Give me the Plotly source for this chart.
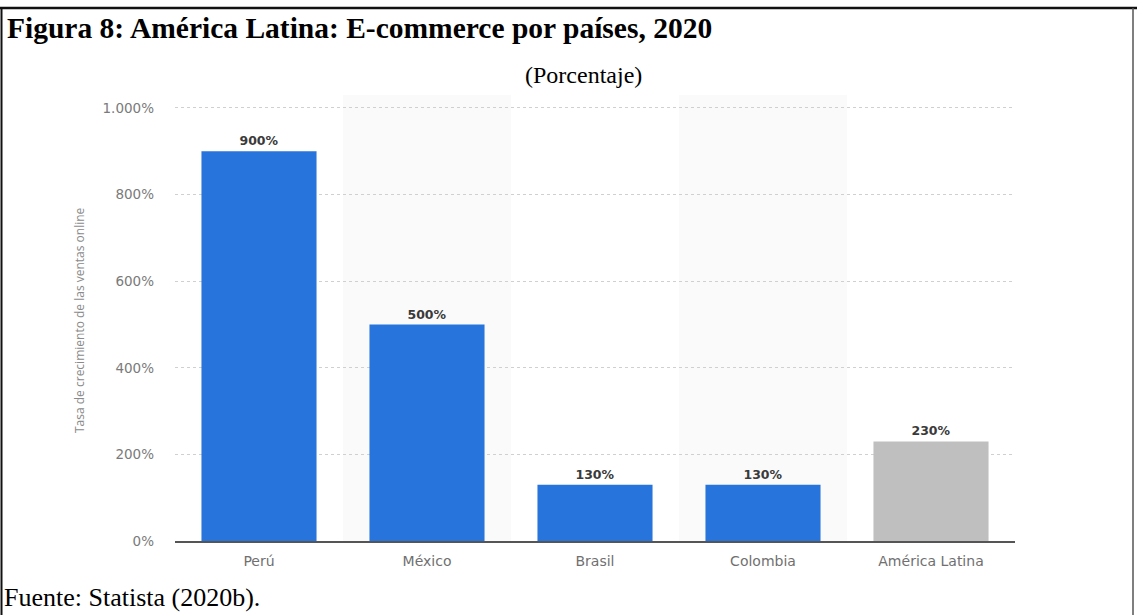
import plotly.graph_objects as go

# Data
paises = ["Perú", "México", "Brasil", "Colombia", "América Latina"]
crecimiento = [900, 500, 130, 130, 230]
colores = ["#2775dc", "#2775dc", "#2775dc", "#2775dc", "#bfbfbf"]
y_ticks = [0, 200, 400, 600, 800, 1000]
y_tick_labels = ["0%", "200%", "400%", "600%", "800%", "1.000%"]

W, H = 1137, 615
L, R, T, B = 175, 1015, 95, 541


def px_x(p):
    return (p - L) / (R - L)


def px_y(p):
    return (B - p) / (B - T)


fig = go.Figure()
fig.add_trace(go.Bar(
    x=paises,
    y=crecimiento,
    marker=dict(color=colores, line=dict(width=0)),
    width=0.685,
    text=[f"{v}%" for v in crecimiento],
    textposition="outside",
    textfont=dict(family="DejaVu Sans", size=12.5, color="#3a3a3a", weight="bold"),
    cliponaxis=False,
    hoverinfo="skip",
))

shapes = []
# alternating column bands
for i in (1, 3):
    shapes.append(dict(type="rect", xref="x", yref="paper", x0=i - 0.5, x1=i + 0.5,
                       y0=0, y1=1, fillcolor="#fafafa", line=dict(width=0), layer="below"))
# frame around the figure
shapes.append(dict(type="line", xref="paper", yref="paper", x0=px_x(0), x1=px_x(W),
                   y0=px_y(8), y1=px_y(8), line=dict(color="#111", width=2.5)))
shapes.append(dict(type="line", xref="paper", yref="paper", x0=px_x(1.5), x1=px_x(1.5),
                   y0=px_y(8), y1=px_y(H), line=dict(color="#111", width=2)))
shapes.append(dict(type="line", xref="paper", yref="paper", x0=px_x(1133), x1=px_x(1133),
                   y0=px_y(8), y1=px_y(H), line=dict(color="#555", width=1.5)))

annotations = [
    dict(text="<b>Figura 8: América Latina: E-commerce por países, 2020</b>",
         xref="paper", yref="paper", x=px_x(5), y=px_y(28), xanchor="left", yanchor="middle",
         showarrow=False, font=dict(family="Liberation Serif", size=29.5, color="#000")),
    dict(text="(Porcentaje)", xref="paper", yref="paper", x=px_x(583), y=px_y(75),
         xanchor="center", yanchor="middle", showarrow=False,
         font=dict(family="Liberation Serif", size=24, color="#000")),
    dict(text="Fuente: Statista (2020b).", xref="paper", yref="paper", x=px_x(2), y=px_y(614),
         xanchor="left", yanchor="bottom", showarrow=False,
         font=dict(family="Liberation Serif", size=26, color="#000")),
    dict(text="Tasa de crecimiento de las ventas online", xref="paper", yref="paper",
         x=px_x(79), y=px_y(320), xanchor="center", yanchor="middle", textangle=-90,
         showarrow=False, font=dict(family="Open Sans", size=12, color="#8a8a8a")),
]

fig.update_layout(
    width=W, height=H,
    margin=dict(l=L, r=W - R, t=T, b=H - B, pad=0),
    paper_bgcolor="white",
    plot_bgcolor="white",
    showlegend=False,
    bargap=0.3,
    shapes=shapes,
    annotations=annotations,
    xaxis=dict(
        showgrid=False, showline=True, linecolor="#555", linewidth=1.5,
        ticks="", ticklabelstandoff=6,
        tickfont=dict(family="DejaVu Sans", size=14, color="#707070"),
        fixedrange=True,
    ),
    yaxis=dict(
        range=[0, 1030], tickvals=y_ticks, ticktext=y_tick_labels,
        showgrid=True, gridcolor="#d0d0d0", griddash="dot", gridwidth=1,
        zeroline=False, showline=False, ticks="", ticklabelstandoff=20,
        tickfont=dict(family="DejaVu Sans", size=13.5, color="#7a7a7a"),
        fixedrange=True,
    ),
)

fig.write_html("out.html")
